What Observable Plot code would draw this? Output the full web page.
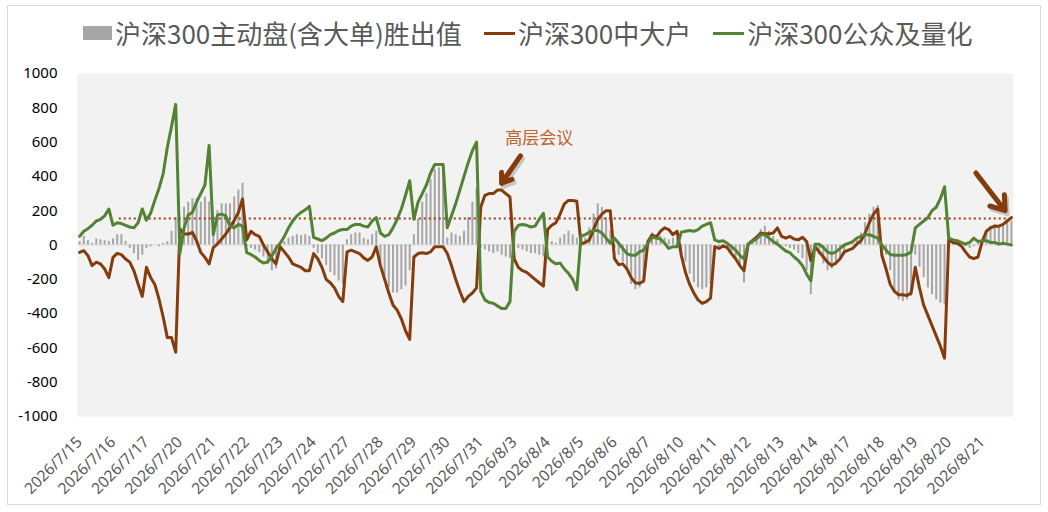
<!DOCTYPE html>
<html><head><meta charset="utf-8">
<script src="https://cdn.jsdelivr.net/npm/d3@7"></script>
<script src="https://cdn.jsdelivr.net/npm/@observablehq/plot@0.6"></script>
<style>
body{margin:0;background:#fff;}
#wrap{position:relative;width:1048px;height:512px;overflow:hidden;font-family:"Noto Sans CJK SC","Noto Sans",sans-serif;background:#fff;}
#border{position:absolute;left:7px;top:5px;width:1034px;height:500px;border:1px solid #d9d9d9;box-sizing:border-box;}
#legend{position:absolute;left:83px;top:17px;height:32px;line-height:32px;display:flex;align-items:center;font-size:26px;color:#595959;white-space:nowrap;}
.item{display:flex;align-items:center;margin-right:22px;}
.sw-bar{width:29px;height:14px;margin-right:3px;}
.sw-line{width:31px;height:3px;margin-right:3px;}
#chart{position:absolute;left:0;top:60px;}
</style></head>
<body><div id="wrap"><div id="border"></div><div id="legend"></div><div id="chart"></div></div>
<script>
const dates = ["2026/7/15","2026/7/16","2026/7/17","2026/7/20","2026/7/21","2026/7/22","2026/7/23","2026/7/24","2026/7/27","2026/7/28","2026/7/29","2026/7/30","2026/7/31","2026/8/3","2026/8/4","2026/8/5","2026/8/6","2026/8/7","2026/8/10","2026/8/11","2026/8/12","2026/8/13","2026/8/14","2026/8/17","2026/8/18","2026/8/19","2026/8/20","2026/8/21"];

const seriesNames = ["沪深300主动盘(含大单)胜出值","沪深300中大户","沪深300公众及量化"];
const seriesColors = ["#a6a6a6","#843c0c","#548235"];

// 沪深300主动盘(含大单)胜出值 (bars), 8 readings per trading day
const barValues = [
  20,50,25,10,35,30,25,20,
  35,60,60,20,-20,-50,-90,-60,
  -20,-10,0,-10,10,20,80,160,
  80,220,250,270,270,250,280,250,
  150,200,240,240,240,280,320,360,
  -10,-20,-30,-45,-70,-110,-150,-140,
  10,20,40,50,60,55,60,50,
  -20,-50,-80,-120,-160,-180,-210,-230,
  30,60,70,70,40,30,60,80,
  -100,-180,-250,-280,-280,-260,-240,-150,
  60,150,250,300,380,440,450,450,
  40,70,60,50,80,160,250,330,
  -20,-30,-40,-50,-40,-60,-70,-80,
  -20,-20,-30,-40,-50,-50,-60,-70,
  10,20,10,40,60,80,60,40,
  20,40,100,180,240,220,160,80,
  -20,-60,-100,-150,-230,-260,-250,-220,
  20,70,60,50,40,30,40,40,
  -40,-100,-170,-220,-250,-260,-250,-230,
  0,-10,-10,-20,-40,-70,-120,-220,
  0,10,30,90,110,80,50,30,
  -5,-10,-20,-30,-50,-80,-150,-290,
  -10,-60,-110,-150,-140,-120,-90,-60,
  5,10,30,70,130,180,220,230,
  -20,-60,-150,-280,-320,-330,-320,-300,
  -60,-130,-190,-250,-290,-320,-340,-350,
  10,10,5,0,-10,-20,-10,10,
  20,80,110,120,110,120,130,140
];

// 沪深300中大户
const bigHolders = [
  -43,-33,-62,-120,-100,-110,-140,-190,
  -72,-49,-56,-82,-100,-150,-227,-300,
  -130,-190,-230,-315,-420,-540,-540,-625,
  93,64,64,74,25,-43,-72,-110,
  -15,6,35,64,103,142,190,268,
  30,80,60,50,0,-40,-80,-110,
  -10,-40,-70,-110,-120,-130,-150,-150,
  -50,-80,-130,-200,-220,-250,-300,-330,
  -40,-30,-40,-50,-75,-90,-70,-10,
  -120,-200,-280,-350,-380,-430,-500,-550,
  -70,-50,-45,-50,-40,-10,-10,-10,
  -50,-120,-200,-270,-330,-300,-280,-250,
  220,290,300,300,320,320,300,280,
  -80,-130,-150,-160,-180,-200,-220,-240,
  90,115,130,180,240,260,260,255,
  5,15,30,90,150,180,200,200,
  -80,-115,-110,-140,-190,-220,-225,-210,
  20,60,45,80,100,90,60,80,
  -60,-160,-230,-280,-320,-340,-330,-310,
  -10,-20,-5,-15,-50,-80,-120,-150,
  5,25,45,70,65,65,70,100,
  50,40,50,35,30,45,20,-90,
  -10,-40,-70,-100,-120,-105,-80,-40,
  -30,-20,5,25,70,130,180,210,
  -60,-140,-230,-270,-290,-290,-295,-280,
  -130,-250,-350,-410,-470,-530,-590,-660,
  30,15,10,-5,-40,-70,-80,-70,
  20,80,100,110,110,120,140,160
];

// 沪深300公众及量化
const publicQuant = [
  50,80,95,115,140,150,170,210,
  115,130,125,115,105,100,130,210,
  145,185,260,330,415,570,690,820,
  -50,100,175,190,250,300,350,580,
  60,175,180,170,110,100,120,110,
  -45,-55,-70,-90,-105,-100,-65,-20,
  10,50,100,140,170,190,205,225,
  45,35,25,40,60,70,85,90,
  90,110,120,120,110,105,140,160,
  70,50,60,100,150,210,290,375,
  150,250,300,350,420,470,470,470,
  100,170,240,320,400,480,550,600,
  -270,-320,-335,-340,-355,-370,-370,-330,
  80,115,120,115,105,110,150,185,
  -70,-95,-110,-105,-140,-165,-200,-260,
  50,60,75,85,85,70,40,10,
  40,10,-20,-50,-60,-60,-40,-30,
  10,45,40,35,10,-20,-10,-10,
  75,80,85,80,90,110,120,130,
  30,20,25,10,-10,-30,-60,-80,
  5,20,35,60,60,40,20,5,
  -15,-35,-45,-70,-90,-120,-170,-210,
  5,5,-15,-40,-50,-40,-20,0,
  10,20,40,50,60,60,50,40,
  0,-30,-55,-60,-60,-60,-55,-40,
  100,120,140,160,200,220,270,340,
  40,30,25,15,5,15,40,20,
  25,25,15,15,5,10,5,0
];

const yTicks = [-1000,-800,-600,-400,-200,0,200,400,600,800,1000];
const refLevel = 155;          // dotted reference line
const refStartIndex = 10;      // reading index where the dotted line begins
const noteLabels = ["高层会议"];
const noteIndex = [110.5];
const noteValue = [620];
// arrows: start (index, value) -> tip (index, value)
const arrowFromIndex = [106, 215];
const arrowFromValue = [520, 420];
const arrowToIndex = [101.5, 222];
const arrowToValue = [360, 200];

// ---- legend ----
const legend = document.getElementById("legend");
seriesNames.forEach((name, k) => {
  const it = document.createElement("div"); it.className = "item";
  const sw = document.createElement("div");
  sw.className = k === 0 ? "sw-bar" : "sw-line";
  sw.style.background = seriesColors[k];
  const tx = document.createElement("span"); tx.textContent = name;
  it.appendChild(sw); it.appendChild(tx); legend.appendChild(it);
});

// ---- chart ----
const N = barValues.length;
const perDay = N / dates.length;
const rows = barValues.map((b, i) => ({x: i + 0.5, bar: b, big: bigHolders[i], pub: publicQuant[i]}));
const xTicks = dates.map((d, k) => k * perDay + 0.5);
const tickLabel = new Map(xTicks.map((t, k) => [t, dates[k]]));
const notes = noteLabels.map((t, k) => ({x: noteIndex[k], y: noteValue[k], text: t}));
const arrows = arrowFromIndex.map((v, k) => ({x1: v, y1: arrowFromValue[k], x2: arrowToIndex[k], y2: arrowToValue[k]}));

const chart = Plot.plot({
  width: 1048, height: 452,
  marginLeft: 77, marginRight: 35, marginTop: 13, marginBottom: 96,
  x: {domain: [0, N], axis: null},
  y: {domain: [-1000, 1000], axis: null},
  style: {fontFamily: "'Noto Sans','Noto Sans CJK SC',sans-serif", background: "transparent", overflow: "visible"},
  marks: [
    Plot.frame({fill: "#f2f2f2", stroke: null}),
    Plot.ruleY([0], {stroke: "#d9d9d9", strokeWidth: 1}),
    Plot.ruleX(rows, {x: "x", y1: 0, y2: "bar", stroke: seriesColors[0], strokeWidth: 2}),
    Plot.ruleY([refLevel], {x1: refStartIndex, x2: N, stroke: "#9a3f12", strokeWidth: 2, strokeDasharray: "2,3"}),
    Plot.line(rows, {x: "x", y: "big", stroke: seriesColors[1], strokeWidth: 3}),
    Plot.line(rows, {x: "x", y: "pub", stroke: seriesColors[2], strokeWidth: 3}),
    Plot.arrow(arrows, {x1: "x1", y1: "y1", x2: "x2", y2: "y2", stroke: "#000", strokeOpacity: 0.18, strokeWidth: 5, headLength: 11, headAngle: 70, dx: 2, dy: 3}),
    Plot.arrow(arrows, {x1: "x1", y1: "y1", x2: "x2", y2: "y2", stroke: "#843c0c", strokeWidth: 5, headLength: 11, headAngle: 70}),
    Plot.text(notes, {x: "x", y: "y", text: "text", fill: "#c0622a", fontSize: 17, fontFamily: "'Noto Sans CJK SC',sans-serif"}),
    Plot.axisY({ticks: yTicks, tickSize: 0, tickPadding: 20, fontSize: 15, color: "#000", tickFormat: d => String(d)}),
    Plot.axisX({ticks: xTicks, tickFormat: t => tickLabel.get(t), tickRotate: -45, tickSize: 0, tickPadding: 23, fontSize: 15.5, color: "#595959"})
  ]
});
document.getElementById("chart").appendChild(chart);
</script>
</body></html>
